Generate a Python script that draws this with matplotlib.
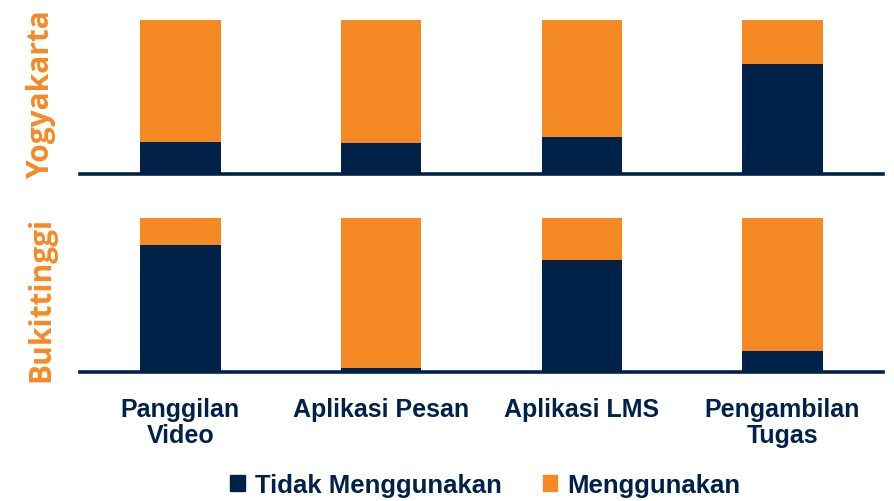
import matplotlib.pyplot as plt
import numpy as np
from matplotlib.patches import Patch

# data (percent of respondents)
categories = ['Panggilan\nVideo', 'Aplikasi Pesan', 'Aplikasi LMS', 'Pengambilan\nTugas']
regions = ['Yogyakarta', 'Bukittinggi']
tidak_yogya = [21, 20, 24, 71.5]
tidak_bukit = [82.5, 2.5, 72.5, 14]
pakai_yogya = [100 - v for v in tidak_yogya]
pakai_bukit = [100 - v for v in tidak_bukit]

navy = '#002248'
orange = '#F58A25'

plt.rcParams['font.family'] = ['Liberation Sans', 'DejaVu Sans']

fig = plt.figure(figsize=(8.94, 5.02), dpi=100)
ax1 = fig.add_axes([0.0895, 0.6514, 0.898, 0.3074])
ax2 = fig.add_axes([0.0895, 0.2564, 0.898, 0.3079])

x = np.arange(len(categories))
for ax, name, tidak, pakai, ly in [(ax1, regions[0], tidak_yogya, pakai_yogya, 0.53),
                                    (ax2, regions[1], tidak_bukit, pakai_bukit, 0.48)]:
    ax.bar(x, tidak, width=0.4, color=navy, zorder=2)
    ax.bar(x, pakai, width=0.4, bottom=tidak, color=orange, zorder=2)
    ax.set_xlim(-0.5, 3.5)
    ax.set_ylim(0, 100)
    for s in ['top', 'right', 'left']:
        ax.spines[s].set_visible(False)
    ax.spines['bottom'].set_color(navy)
    ax.spines['bottom'].set_linewidth(2.6)
    ax.spines['bottom'].set_zorder(3)
    ax.set_yticks([])
    ax.set_ylabel(name, color=orange, fontsize=21.5, fontweight='bold',
                  family=['Open Sans', 'DejaVu Sans'], labelpad=0)
    ax.yaxis.set_label_coords(-0.03, ly)

ax1.set_xticks([])
ax2.set_xticks(x)
ax2.set_xticklabels(categories, fontsize=18, fontweight='bold', color=navy,
                    linespacing=1.08)
ax2.tick_params(axis='x', length=0, pad=18)

handles = [Patch(color=navy, label='Tidak Menggunakan'),
           Patch(color=orange, label='Menggunakan')]
fig.legend(handles=handles, loc='center', bbox_to_anchor=(0.543, 0.032), ncol=2,
           frameon=False, handlelength=0.55, handleheight=0.55, handletextpad=0.4,
           columnspacing=1.6, prop={'size': 18.5, 'weight': 'bold'}, labelcolor=navy)

fig.savefig('out.png', dpi=100)
